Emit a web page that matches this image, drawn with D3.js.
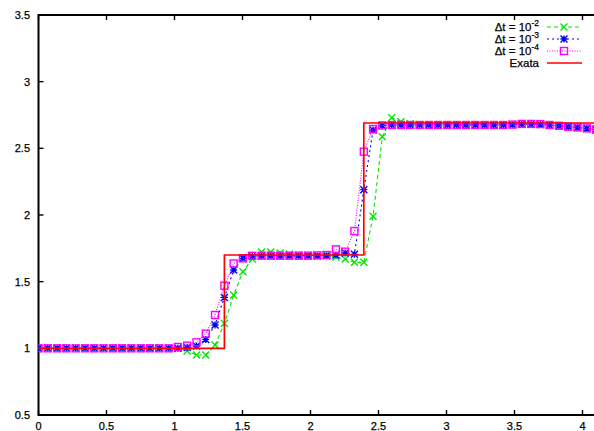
<!DOCTYPE html>
<html>
<head>
<meta charset="utf-8">
<script src="https://cdn.jsdelivr.net/npm/d3@7"></script>
<style>
  body { margin: 0; background: #fff; }
  svg { display: block; font-family: "Liberation Sans", Arial, sans-serif; }
  text { stroke: #000; stroke-width: 0.25; }
</style>
</head>
<body>
<svg id="chart" width="594" height="431"></svg>
<script>
// grid points (x)
const xGrid = [0, 0.068, 0.137, 0.205, 0.273, 0.342, 0.41, 0.478, 0.547, 0.615,
  0.683, 0.752, 0.82, 0.888, 0.957, 1.025, 1.093, 1.162, 1.23, 1.298,
  1.367, 1.435, 1.503, 1.572, 1.64, 1.708, 1.777, 1.845, 1.913, 1.982,
  2.05, 2.118, 2.187, 2.255, 2.323, 2.392, 2.46, 2.528, 2.597, 2.665,
  2.733, 2.802, 2.87, 2.938, 3.007, 3.075, 3.143, 3.212, 3.28, 3.348,
  3.417, 3.485, 3.553, 3.622, 3.69, 3.758, 3.827, 3.895, 3.963, 4.032, 4.1];

// dt = 1e-2
const u1 = [1, 1, 1, 1, 1, 1, 1, 1, 1, 1,
  1, 1, 1, 1, 1, 1.002, 0.98, 0.95, 0.95, 1.025,
  1.187, 1.40, 1.575, 1.67, 1.722, 1.722, 1.715, 1.705, 1.70, 1.698,
  1.698, 1.70, 1.685, 1.67, 1.645, 1.645, 1.99, 2.587, 2.73, 2.70,
  2.685, 2.678, 2.675, 2.675, 2.675, 2.675, 2.675, 2.675, 2.675, 2.675,
  2.675, 2.675, 2.68, 2.68, 2.68, 2.674, 2.668, 2.662, 2.656, 2.649, 2.64];

// dt = 1e-3
const u2 = [1, 1, 1, 1, 1, 1, 1, 1, 1, 1,
  1, 1, 1, 1, 1, 1, 1.007, 1.017, 1.067, 1.175,
  1.382, 1.587, 1.675, 1.69, 1.693, 1.693, 1.693, 1.693, 1.693, 1.693,
  1.693, 1.694, 1.70, 1.715, 1.705, 2.19, 2.637, 2.67, 2.675, 2.675,
  2.675, 2.675, 2.675, 2.675, 2.675, 2.675, 2.675, 2.675, 2.675, 2.675,
  2.675, 2.678, 2.681, 2.681, 2.679, 2.674, 2.668, 2.662, 2.656, 2.649, 2.64];

// dt = 1e-4
const u3 = [1, 1, 1, 1, 1, 1, 1, 1, 1, 1,
  1, 1, 1, 1, 1, 1.01, 1.02, 1.045, 1.11, 1.25,
  1.47, 1.637, 1.675, 1.694, 1.695, 1.695, 1.695, 1.695, 1.695, 1.695,
  1.697, 1.70, 1.742, 1.725, 1.88, 2.475, 2.645, 2.672, 2.675, 2.675,
  2.675, 2.675, 2.675, 2.675, 2.675, 2.675, 2.675, 2.675, 2.675, 2.675,
  2.675, 2.678, 2.683, 2.683, 2.682, 2.675, 2.669, 2.662, 2.657, 2.65, 2.642];

// exact solution (step)
const exactX = [0, 1.367, 1.367, 2.392, 2.392, 4.1];
const exactY = [1, 1, 1.7, 1.7, 2.69, 2.69];

const xTicks = [0, 0.5, 1, 1.5, 2, 2.5, 3, 3.5, 4];
const yTicks = [0.5, 1, 1.5, 2, 2.5, 3, 3.5];

const svg = d3.select("#chart");
const mLeft = 38.5, mTop = 15, mBottom = 415, mRight = 38.5 + 4.1 * 136;

const x = d3.scaleLinear().domain([0, 4.1]).range([mLeft, mRight]);
const y = d3.scaleLinear().domain([0.5, 3.5]).range([mBottom, mTop]);

svg.append("defs").append("clipPath").attr("id", "clip")
  .append("rect").attr("x", mLeft).attr("y", mTop)
  .attr("width", mRight - mLeft).attr("height", mBottom - mTop);

// ticks (gnuplot style, inward)
const tickLen = 5;
const g = svg.append("g").attr("stroke", "#000").attr("stroke-width", 1.4);
xTicks.forEach(t => {
  g.append("line").attr("x1", x(t)).attr("x2", x(t)).attr("y1", mBottom).attr("y2", mBottom - tickLen);
  g.append("line").attr("x1", x(t)).attr("x2", x(t)).attr("y1", mTop).attr("y2", mTop + tickLen);
});
yTicks.forEach(t => {
  g.append("line").attr("x1", mLeft).attr("x2", mLeft + tickLen).attr("y1", y(t)).attr("y2", y(t));
});

// tick labels
svg.append("g").selectAll("text").data(xTicks).join("text")
  .attr("x", d => x(d)).attr("y", 430)
  .attr("text-anchor", "middle").attr("font-size", 11).attr("fill", "#000")
  .text(d => d);
svg.append("g").selectAll("text").data(yTicks).join("text")
  .attr("x", 30).attr("y", d => y(d) + 4)
  .attr("text-anchor", "end").attr("font-size", 11).attr("fill", "#000")
  .text(d => d);

// frame
svg.append("path")
  .attr("d", `M${mRight},${mTop}H${mLeft}V${mBottom}H${mRight}`)
  .attr("fill", "none").attr("stroke", "#000").attr("stroke-width", 2);

const series = [
  { name: "-2", ys: u1, color: "#00e600", dash: "4,3", marker: "cross" },
  { name: "-3", ys: u2, color: "#0000ff", dash: "2,3", marker: "star" },
  { name: "-4", ys: u3, color: "#ff00ff", dash: "1,1.5", marker: "square" }
];

const plot = svg.append("g").attr("clip-path", "url(#clip)");
const line = d3.line().x(d => x(d[0])).y(d => y(d[1]));

function drawMarker(sel, type, color) {
  const s = 3.5;
  if (type === "cross") {
    sel.append("path").attr("d", `M${-s},${-s}L${s},${s}M${-s},${s}L${s},${-s}`)
      .attr("stroke", color).attr("stroke-width", 1.4).attr("fill", "none");
  } else if (type === "star") {
    sel.append("path").attr("d", `M${-s},${-s}L${s},${s}M${-s},${s}L${s},${-s}M${-s},0H${s}M0,${-s}V${s}`)
      .attr("stroke", color).attr("stroke-width", 1.4).attr("fill", "none");
  } else {
    sel.append("rect").attr("x", -s).attr("y", -s).attr("width", 2 * s).attr("height", 2 * s)
      .attr("stroke", color).attr("stroke-width", 1.4).attr("fill", "none");
  }
}

series.forEach(s => {
  const pts = xGrid.map((xv, i) => [xv, s.ys[i]]);
  plot.append("path").datum(pts)
    .attr("d", line).attr("fill", "none")
    .attr("stroke", s.color).attr("stroke-width", 1.1).attr("stroke-dasharray", s.dash);
  pts.forEach(p => {
    const m = plot.append("g").attr("transform", `translate(${x(p[0])},${y(p[1])})`);
    drawMarker(m, s.marker, s.color);
  });
});

// exact
plot.append("path").datum(exactX.map((xv, i) => [xv, exactY[i]]))
  .attr("d", line).attr("fill", "none").attr("stroke", "#ff0000").attr("stroke-width", 1.7);

// legend
const legY = [27, 39, 51, 63];
const leg = svg.append("g");
series.forEach((s, k) => {
  const t = leg.append("text").attr("x", 539).attr("y", legY[k] + 4)
    .attr("text-anchor", "end").attr("font-size", 11.5).attr("fill", "#000");
  t.append("tspan").text("\u0394t = 10");
  t.append("tspan").attr("dy", -5).attr("font-size", 8.5).text(s.name);
  leg.append("line").attr("x1", 547).attr("x2", 582).attr("y1", legY[k]).attr("y2", legY[k])
    .attr("stroke", s.color).attr("stroke-width", 1.1).attr("stroke-dasharray", s.dash);
  const m = leg.append("g").attr("transform", `translate(564,${legY[k]})`);
  drawMarker(m, s.marker, s.color);
});
leg.append("text").attr("x", 539).attr("y", legY[3] + 4)
  .attr("text-anchor", "end").attr("font-size", 11.5).attr("fill", "#000").text("Exata");
leg.append("line").attr("x1", 547).attr("x2", 582).attr("y1", legY[3]).attr("y2", legY[3])
  .attr("stroke", "#ff0000").attr("stroke-width", 1.7);
</script>
</body>
</html>
